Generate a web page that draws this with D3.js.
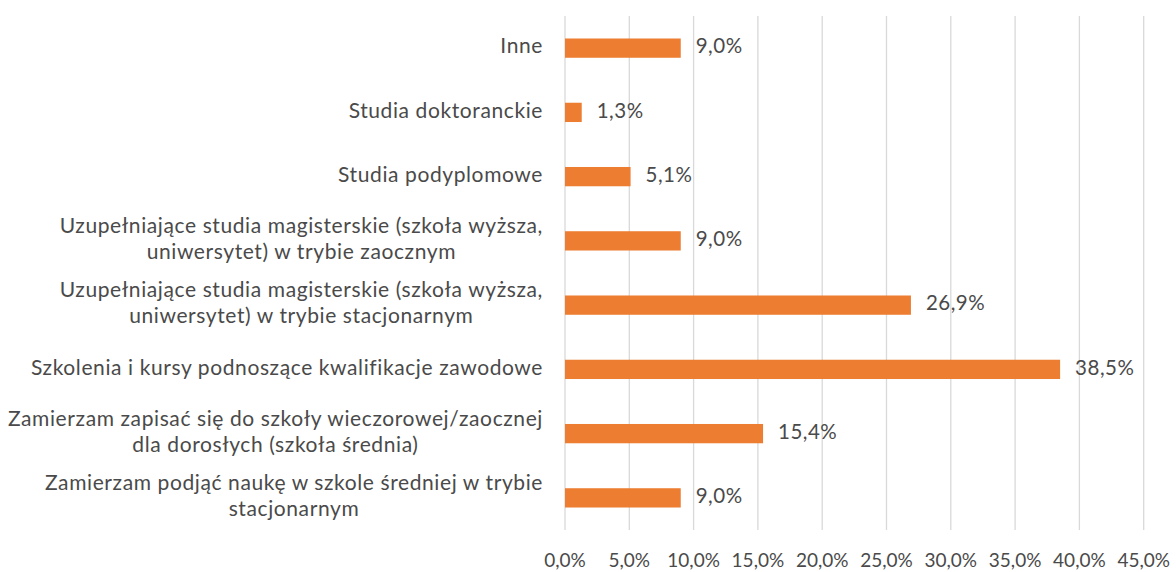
<!DOCTYPE html>
<html>
<head>
<meta charset="utf-8">
<script src="https://cdn.jsdelivr.net/npm/d3@7.9.0/dist/d3.min.js"></script>
<style>
  body { margin: 0; background: #fff; }
  svg text { font-family: Lato, "Open Sans", sans-serif; fill: #4a4a4a; }
</style>
</head>
<body>
<svg id="chart" width="1176" height="572"></svg>
<script>
// categories, top to bottom (each entry is the list of label lines)
const categories = [
  ['Inne'],
  ['Studia doktoranckie'],
  ['Studia podyplomowe'],
  ['Uzupełniające studia magisterskie (szkoła wyższa,', 'uniwersytet) w trybie zaocznym'],
  ['Uzupełniające studia magisterskie (szkoła wyższa,', 'uniwersytet) w trybie stacjonarnym'],
  ['Szkolenia i kursy podnoszące kwalifikacje zawodowe'],
  ['Zamierzam zapisać się do szkoły wieczorowej/zaocznej', 'dla dorosłych (szkoła średnia)'],
  ['Zamierzam podjąć naukę w szkole średniej w trybie', 'stacjonarnym']
];
const values = [9.0, 1.3, 5.1, 9.0, 26.9, 38.5, 15.4, 9.0];
const ticks = [0, 5, 10, 15, 20, 25, 30, 35, 40, 45];

const pl = d3.formatLocale({ decimal: ',', thousands: ' ', grouping: [3], currency: ['', ' zł'] });
const fmt = pl.format('.1f');

const svg = d3.select('#chart');
const plotLeft = 565, plotRight = 1143.7, plotTop = 16, plotBottom = 530;

let x = d3.scaleLinear().domain([0, 45]).range([plotLeft, plotRight]);
let y = d3.scaleBand().domain(d3.range(categories.length)).range([plotTop, plotBottom]).paddingInner(0.7).paddingOuter(0.35);

// gridlines
svg.append('g')
   .selectAll('line')
   .data(ticks)
   .join('line')
   .attr('x1', (d) => x(d)).attr('x2', (d) => x(d))
   .attr('y1', plotTop).attr('y2', plotBottom)
   .attr('stroke', '#d9d9d9')
   .attr('stroke-width', 1.3);

// tick labels
svg.append('g')
   .selectAll('text')
   .data(ticks)
   .join('text')
   .attr('x', (d) => x(d))
   .attr('y', 562)
   .attr('text-anchor', 'middle')
   .attr('dominant-baseline', 'middle')
   .style('font-size', '19px')
   .text((d) => fmt(d) + '%');

// bars
svg.append('g')
   .selectAll('rect')
   .data(values)
   .join('rect')
   .attr('x', x(0))
   .attr('y', (d, i) => y(i))
   .attr('width', (d) => x(d) - x(0))
   .attr('height', y.bandwidth())
   .attr('fill', '#ED7D31');

// value labels
svg.append('g')
   .selectAll('text')
   .data(values)
   .join('text')
   .attr('x', (d) => x(d) + 15)
   .attr('y', (d, i) => y(i) + y.bandwidth() / 2)
   .attr('dominant-baseline', 'middle')
   .style('font-size', '20.5px')
   .style('letter-spacing', '0.5px')
   .text((d) => fmt(d) + '%');

// category labels
const lineH = 26;
let catText = svg.append('g')
   .selectAll('text')
   .data(categories)
   .join('text')
   .attr('text-anchor', 'middle')
   .style('font-size', '21px')
   .style('letter-spacing', '0.6px');

catText.each(function (lines, i) {
    let cy = y(i) + y.bandwidth() / 2;
    let t = d3.select(this);
    lines.forEach((ln, k) => {
        t.append('tspan')
         .attr('x', 0)
         .attr('y', cy + (k - (lines.length - 1) / 2) * lineH)
         .attr('dominant-baseline', 'middle')
         .text(ln);
    });
    // right-align the block, centre each line inside it
    let w = this.getBBox().width;
    t.selectAll('tspan').attr('x', 543 - w / 2);
});
</script>
</body>
</html>
